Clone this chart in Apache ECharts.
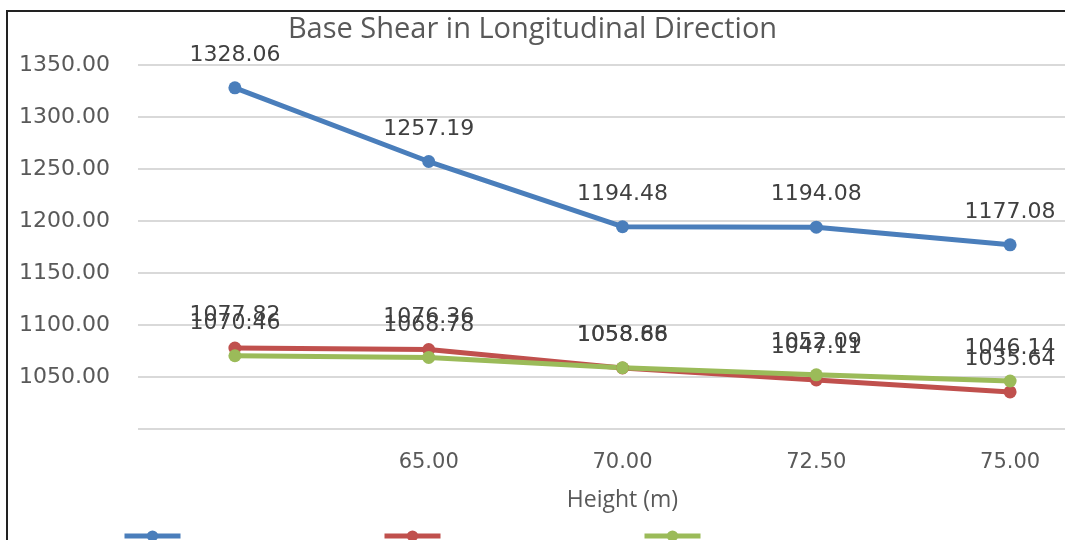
<!DOCTYPE html>
<html>
<head>
<meta charset="utf-8">
<script src="https://cdn.jsdelivr.net/npm/echarts@6/dist/echarts.min.js"></script>
<style>
html,body{margin:0;padding:0;background:#fff;overflow:hidden;}
#chart{width:1065px;height:540px;}
</style>
</head>
<body>
<div id="chart"></div>
<script>
const titleText = 'Base Shear in Longitudinal Direction';
const xAxisName = 'Height (m)';
const categories = ['', '65.00', '70.00', '72.50', '75.00'];
const seriesNames = ['Series 1', 'Series 2', 'Series 3'];
const blueValues = [1328.06, 1257.19, 1194.48, 1194.08, 1177.08];
const redValues = [1077.82, 1076.36, 1058.66, 1047.11, 1035.64];
const greenValues = [1070.46, 1068.78, 1058.88, 1052.09, 1046.14];
const colors = ['#4A7EBB', '#C0504D', '#9BBB59'];

const chart = echarts.init(document.getElementById('chart'), null, {renderer: 'canvas'});

function makeSeries(name, data, color) {
  return {
    name: name,
    type: 'line',
    data: data,
    symbol: 'circle',
    symbolSize: 13,
    lineStyle: {width: 5, color: color},
    itemStyle: {color: color},
    label: {
      show: true,
      position: 'top',
      distance: 15,
      formatter: p => p.value.toFixed(2),
      fontFamily: 'DejaVu Sans',
      fontSize: 22,
      color: '#404040'
    },
    z: 3
  };
}

chart.setOption({
  animation: false,
  backgroundColor: '#fff',
  title: {
    text: titleText,
    left: 'center',
    top: 10,
    textStyle: {fontFamily: 'Open Sans', fontWeight: 'normal', fontSize: 29, color: '#595959'}
  },
  graphic: [{
    type: 'polyline',
    shape: {points: [[7, 600], [7, 11], [1100, 11]]},
    style: {fill: null, stroke: '#222', lineWidth: 2},
    silent: true,
    z: 100
  }],
  legend: {
    left: 117,
    top: 524,
    itemWidth: 56,
    itemHeight: 14,
    itemGap: 199,
    formatter: () => '',
    lineStyle: {width: 5},
    data: seriesNames
  },
  grid: {left: 138, width: 969, top: 65, height: 364, outerBoundsMode: 'none', containLabel: false},
  xAxis: {
    type: 'category',
    data: categories,
    boundaryGap: true,
    name: xAxisName,
    nameLocation: 'middle',
    nameGap: 60,
    nameTextStyle: {fontFamily: 'Open Sans', fontSize: 23, color: '#595959'},
    axisLine: {show: false},
    axisTick: {show: false},
    axisLabel: {fontFamily: 'DejaVu Sans', fontSize: 21, color: '#595959', margin: 23}
  },
  yAxis: {
    type: 'value',
    min: 1000,
    max: 1350,
    interval: 50,
    axisLine: {show: false},
    axisTick: {show: false},
    splitLine: {lineStyle: {color: '#D9D9D9', width: 2}},
    axisLabel: {
      showMinLabel: false,
      fontFamily: 'DejaVu Sans',
      fontSize: 22,
      color: '#595959',
      margin: 28,
      formatter: v => v.toFixed(2)
    }
  },
  series: [
    makeSeries(seriesNames[0], blueValues, colors[0]),
    makeSeries(seriesNames[1], redValues, colors[1]),
    makeSeries(seriesNames[2], greenValues, colors[2])
  ]
});
</script>
</body>
</html>
